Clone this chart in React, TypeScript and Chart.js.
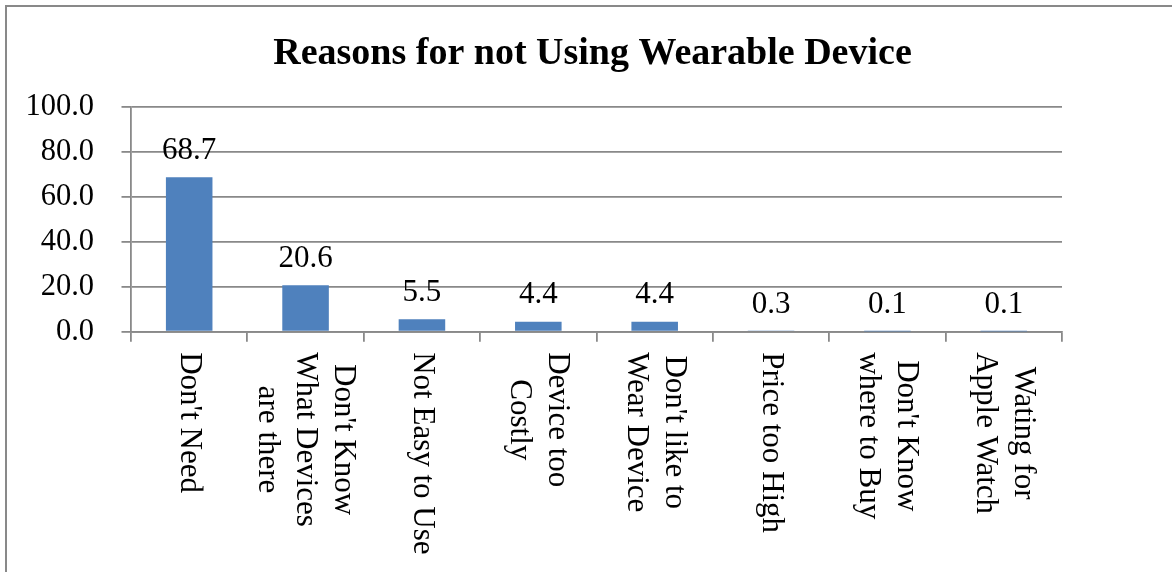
import React, { useEffect, useRef } from "react";
import { Chart, registerables } from "chart.js";

Chart.register(...registerables);

// Reasons given by respondents for not using a wearable device (%)
const reasonLabels: string[][] = [
  ["Don't Need"],
  ["Don't Know", "What Devices", "are there"],
  ["Not Easy to Use"],
  ["Device too", "Costly"],
  ["Don't like to", "Wear Device"],
  ["Price too High"],
  ["Don't Know", "where to Buy"],
  ["Wating for", "Apple Watch"],
];
const reasonShares: number[] = [68.7, 20.6, 5.5, 4.4, 4.4, 0.3, 0.1, 0.1];
const yTicks = { min: 0, max: 100, step: 20 };

const FONT = "'Liberation Serif', 'Times New Roman', serif";
const GRID = "#898989";
const BAR = "#4F81BD";

// Outer frame around the chart
const framePlugin = {
  id: "frame",
  beforeDraw(chart: Chart) {
    const ctx = chart.ctx;
    ctx.save();
    ctx.fillStyle = "#ffffff";
    ctx.fillRect(0, 0, chart.width, chart.height);
    ctx.strokeStyle = GRID;
    ctx.lineWidth = 2;
    ctx.strokeRect(6, 6, chart.width + 50, chart.height + 50);
    ctx.restore();
  },
};

// Value printed above each bar
const valueLabelPlugin = {
  id: "valueLabels",
  afterDatasetsDraw(chart: Chart) {
    const ctx = chart.ctx;
    const meta = chart.getDatasetMeta(0);
    ctx.save();
    ctx.font = `31px ${FONT}`;
    ctx.fillStyle = "#000000";
    ctx.textAlign = "center";
    ctx.textBaseline = "alphabetic";
    meta.data.forEach((bar: any, i: number) => {
      const v = reasonShares[i];
      ctx.fillText(v.toFixed(1), bar.x, bar.y - 18.5);
    });
    ctx.restore();
  },
};

// Category names, turned a quarter clockwise and hung below the axis
const categoryLabelPlugin = {
  id: "categoryLabels",
  afterDraw(chart: Chart) {
    const ctx = chart.ctx;
    const xScale = chart.scales.x;
    const top = xScale.top + 20.5;
    const lineH = 38;
    ctx.save();
    ctx.font = `31px ${FONT}`;
    ctx.fillStyle = "#000000";
    ctx.textAlign = "center";
    ctx.textBaseline = "middle";
    reasonLabels.forEach((lines, i) => {
      const cx = xScale.getPixelForValue(i);
      const widest = Math.max(...lines.map((l) => ctx.measureText(l).width));
      ctx.save();
      ctx.translate(cx, top);
      ctx.rotate(Math.PI / 2);
      lines.forEach((line, j) => {
        const ly = (j - (lines.length - 1) / 2) * lineH;
        ctx.fillText(line, widest / 2, ly);
      });
      ctx.restore();
    });
    ctx.restore();
  },
};

export default function App() {
  const canvasRef = useRef<HTMLCanvasElement | null>(null);

  useEffect(() => {
    if (!canvasRef.current) return;
    const chart = new Chart(canvasRef.current, {
      type: "bar",
      data: {
        labels: reasonLabels.map((l) => l.join(" ")),
        datasets: [
          {
            data: reasonShares,
            backgroundColor: BAR,
            borderWidth: 0,
            barPercentage: 0.4,
            categoryPercentage: 1,
          },
        ],
      },
      options: {
        responsive: false,
        animation: false,
        devicePixelRatio: 1,
        layout: { padding: { left: 13, right: 0, top: 0, bottom: 0 } },
        plugins: {
          legend: { display: false },
          tooltip: { enabled: false },
          title: {
            display: true,
            text: "Reasons for not Using Wearable Device",
            color: "#000000",
            font: { family: FONT, size: 38, weight: "bold", lineHeight: 1.2 },
            padding: { top: 31, bottom: 30.1 },
          },
        },
        scales: {
          x: {
            grid: {
              display: true,
              drawOnChartArea: false,
              drawTicks: true,
              tickLength: 10,
              color: GRID,
              lineWidth: 1.8,
              offset: true,
            },
            border: { display: true, color: GRID, width: 1.8 },
            ticks: { display: false },
            afterFit(scale: any) {
              scale.height = 240.3;
            },
          },
          y: {
            min: yTicks.min,
            max: yTicks.max,
            ticks: {
              stepSize: yTicks.step,
              color: "#000000",
              font: { family: FONT, size: 30.5 },
              padding: 27.5,
              callback: (v: any) => Number(v).toFixed(1),
            },
            grid: {
              color: GRID,
              lineWidth: 1.8,
              drawTicks: true,
              tickLength: 9.5,
            },
            border: { display: true, color: GRID, width: 1.8 },
            afterFit(scale: any) {
              scale.width = 118;
            },
          },
          // empty strip on the right side of the plot
          spacer: {
            type: "linear",
            position: "right",
            display: true,
            grid: { display: false },
            border: { display: false },
            ticks: { display: false },
            afterFit(scale: any) {
              scale.width = 110;
            },
          },
        },
      },
      plugins: [framePlugin, valueLabelPlugin, categoryLabelPlugin],
    });
    return () => chart.destroy();
  }, []);

  return (
    <div style={{ position: "absolute", left: 0, top: 0, width: 1172, height: 572, background: "#fff" }}>
      <canvas ref={canvasRef} width={1172} height={572} />
    </div>
  );
}
